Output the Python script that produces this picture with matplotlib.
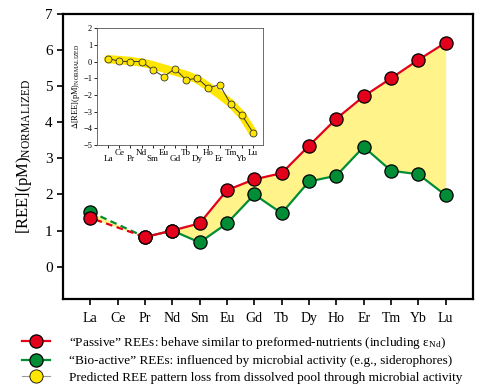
import numpy as np
import matplotlib.pyplot as plt
from matplotlib.lines import Line2D

plt.rcParams['font.family'] = ['Liberation Serif', 'DejaVu Serif']
plt.rcParams['mathtext.fontset'] = 'stix'

# REE series (Ce has no value in the main panel)
elements = ["La", "Ce", "Pr", "Nd", "Sm", "Eu", "Gd", "Tb", "Dy", "Ho", "Er", "Tm", "Yb", "Lu"]
main_elements = ["La", "Pr", "Nd", "Sm", "Eu", "Gd", "Tb", "Dy", "Ho", "Er", "Tm", "Yb", "Lu"]
passive = [1.35, 0.82, 1.0, 1.2, 2.12, 2.42, 2.59, 3.35, 4.1, 4.72, 5.22, 5.73, 6.21]
bioactive = [1.52, 0.82, 1.0, 0.67, 1.2, 2.0, 1.48, 2.36, 2.52, 3.32, 2.66, 2.56, 1.98]

# inset: difference pattern and smooth predicted trend
delta = [0.18, 0.02, 0.0, 0.0, -0.5, -0.9, -0.43, -1.1, -1.0, -1.58, -1.38, -2.55, -3.2, -4.25]
trend = [0.14, 0.09, 0.03, -0.06, -0.22, -0.42, -0.6, -0.8, -1.07, -1.5, -1.98, -2.5, -3.2, -4.25]

RED = "#e2001a"
GREEN = "#008d36"
FILL = "#fff38a"
BAND = "#ffe600"

fig = plt.figure(figsize=(5, 3.91), dpi=100)
ax = fig.add_axes([0.126, 0.235, 0.82, 0.729])

pos = {e: i for i, e in enumerate(elements)}
x = np.array([pos[e] for e in main_elements])
passive = np.array(passive)
bioactive = np.array(bioactive)

ax.fill_between(x, passive, bioactive, color=FILL, lw=0, zorder=1)

# dashed La-Pr link (Ce missing), solid from Pr on
ax.plot(x[:2], bioactive[:2], color=GREEN, lw=1.6, ls=(0, (3, 2)), zorder=2)
ax.plot(x[:2], passive[:2], color=RED, lw=1.6, ls=(2.5, (3, 2)), zorder=2)
ax.plot(x[1:], bioactive[1:], color=GREEN, lw=1.6, zorder=2)
ax.plot(x, bioactive, ls="none", marker="o", ms=9.5, mfc=GREEN, mec="black", mew=0.9, zorder=3)
ax.plot(x[1:], passive[1:], color=RED, lw=1.6, zorder=4)
ax.plot(x, passive, ls="none", marker="o", ms=9.5, mfc=RED, mec="black", mew=0.9, zorder=5)

ax.set_xlim(-1, 14)
ax.set_ylim(-0.9, 7)
ax.set_xticks(range(len(elements)))
ax.set_xticklabels(elements, fontsize=10)
ax.set_yticks(range(0, 8))
ax.tick_params(axis="y", labelsize=11, direction="out", length=4, width=1.2)
ax.tick_params(axis="x", direction="out", length=4, width=1.2, pad=5)
for s in ax.spines.values():
    s.set_linewidth(1.6)
ax.set_ylabel(r"[REE](pM)$_{\mathregular{NORMALIZED}}$", fontsize=12, labelpad=8)

# inset
ins = fig.add_axes([0.194, 0.629, 0.332, 0.299])
xi = np.arange(len(elements))
ins.plot(xi, trend, color=BAND, lw=6, solid_capstyle="round", zorder=1)
ins.plot(xi, delta, color="#333333", lw=0.7, marker="o", ms=5, mfc="#ffe600", mec="#333333", mew=0.6, zorder=2)
ins.set_xlim(-1, 13.9)
ins.set_ylim(-5, 2)
ins.set_yticks(range(-5, 3))
ins.tick_params(axis="y", labelsize=6, length=2, width=0.6, pad=1.5)
ins.set_xticks(xi[0::2])
ins.set_xticklabels(elements[0::2], fontsize=6.5)
ins.set_xticks(xi[1::2], minor=True)
ins.set_xticklabels(elements[1::2], minor=True, fontsize=6.5)
ins.tick_params(axis="x", which="major", length=2, width=0.6, pad=5)
ins.tick_params(axis="x", which="minor", length=2, width=0.6, pad=0.5)
for s in ins.spines.values():
    s.set_linewidth(0.6)
    s.set_color("#555555")
ins.set_ylabel(r"$\Delta$[REE](pM)$_{\mathregular{NORMALIZED}}$", fontsize=6, labelpad=1)

# legend below the axes
handles = [
    Line2D([], [], color=RED, lw=1.6, marker="o", ms=9.5, mfc=RED, mec="black", mew=0.9),
    Line2D([], [], color=GREEN, lw=1.6, marker="o", ms=9.5, mfc=GREEN, mec="black", mew=0.9),
    Line2D([], [], color="#999999", lw=0.8, marker="o", ms=9.5, mfc=BAND, mec="black", mew=0.6),
]
labels = [
    "\u201cPassive\u201d REEs: behave similar to preformed-nutrients (including $\\mathregular{\\varepsilon}_{\\mathregular{Nd}}$)",
    "\u201cBio-active\u201d REEs: influenced by microbial activity (e.g., siderophores)",
    "Predicted REE pattern loss from dissolved pool through microbial activity",
]
fig.legend(handles, labels, loc="lower left", bbox_to_anchor=(0.02, -0.012), frameon=False,
           fontsize=9.5, handlelength=2.1, handletextpad=1.5, labelspacing=0.32)

fig.savefig("out.png", dpi=100)
